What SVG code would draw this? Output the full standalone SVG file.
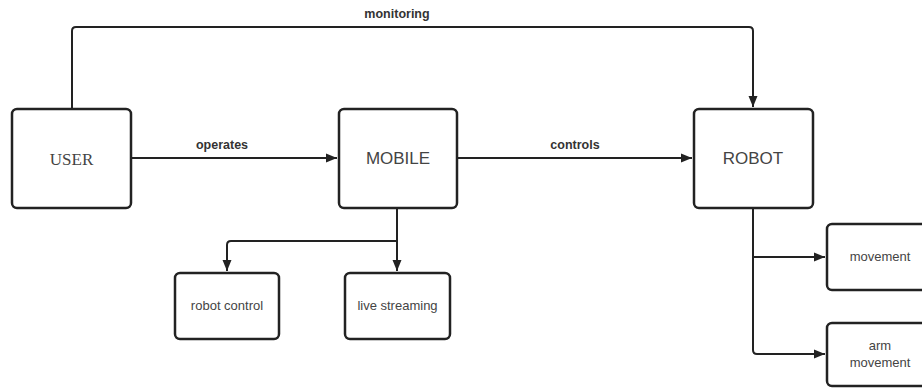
<svg xmlns="http://www.w3.org/2000/svg" width="922" height="388" viewBox="0 0 922 388">
<style>
.box{fill:#fff;stroke:#222;stroke-width:2.5}
.c{fill:none;stroke:#222;stroke-width:2}
.t{font-family:"Liberation Sans",Arial,sans-serif;fill:#444;text-anchor:middle}
.big{font-size:17px}
.sm{font-size:13px}
.lbl{font-family:"Liberation Sans",Arial,sans-serif;font-size:12.5px;font-weight:bold;fill:#333;text-anchor:middle}
</style>
<defs>
<marker id="a" markerWidth="12" markerHeight="10" refX="11" refY="5" orient="auto" markerUnits="userSpaceOnUse">
<path d="M0,0.5 L11,5 L0,9.5 Z" fill="#222"/>
</marker>
</defs>
<rect width="922" height="388" fill="#fff"/>
<g id="connectors">
<path class="c" d="M72,109 V31 Q72,27 76,27 H749 Q753,27 753,31 V107" marker-end="url(#a)"/>
<path class="c" d="M131,158 H337" marker-end="url(#a)"/>
<path class="c" d="M457,158 H692" marker-end="url(#a)"/>
<path class="c" d="M397,208 V271" marker-end="url(#a)"/>
<path class="c" d="M397,241 H231 Q227,241 227,245 V271" marker-end="url(#a)"/>
<path class="c" d="M753,208 V350 Q753,354 757,354 H825" marker-end="url(#a)"/>
<path class="c" d="M753,257 H825" marker-end="url(#a)"/>
<text class="lbl" x="397" y="18">monitoring</text>
<text class="lbl" x="222" y="149">operates</text>
<text class="lbl" x="575" y="149">controls</text>
</g>
<g id="user">
<rect class="box" x="12" y="109" width="119" height="99" rx="5"/>
<text x="71.5" y="165" style="font-family:'Liberation Serif','Times New Roman',serif;font-size:17px;fill:#444;text-anchor:middle">USER</text>
</g>
<g id="mobile">
<rect class="box" x="339" y="109" width="118" height="99" rx="5"/>
<text class="t big" x="398" y="164">MOBILE</text>
</g>
<g id="robot">
<rect class="box" x="694" y="109" width="119" height="99" rx="5"/>
<text class="t big" x="753" y="164">ROBOT</text>
</g>
<g id="robot-control">
<rect class="box" x="175" y="273" width="104" height="66" rx="5"/>
<text class="t sm" x="227" y="310">robot control</text>
</g>
<g id="live-streaming">
<rect class="box" x="345" y="273" width="105" height="66" rx="5"/>
<text class="t sm" x="397.5" y="310">live streaming</text>
</g>
<g id="movement">
<rect class="box" x="827" y="224" width="106" height="66" rx="5"/>
<text class="t sm" x="880" y="261">movement</text>
</g>
<g id="arm-movement">
<rect class="box" x="827" y="323" width="106" height="63" rx="5"/>
<text class="t sm" x="880" y="350">arm</text>
<text class="t sm" x="880" y="367">movement</text>
</g>
</svg>
